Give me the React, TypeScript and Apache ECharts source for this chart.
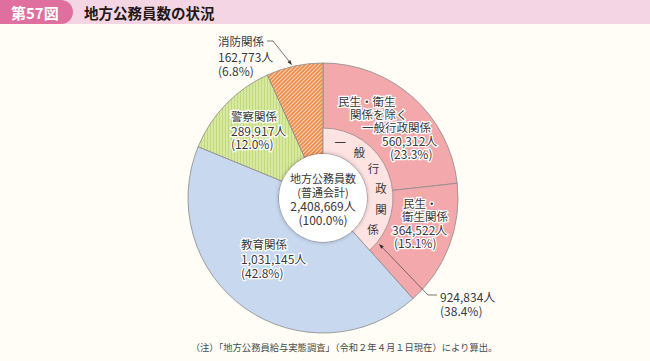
import React, { useEffect, useRef } from "react";
import * as echarts from "echarts";

const categories = ["民生・衛生関係を除く一般行政関係", "民生・衛生関係", "教育関係", "警察関係", "消防関係"];
const values = [560312, 364522, 1031145, 289917, 162773];
const percents = ["23.3", "15.1", "42.8", "12.0", "6.8"];
const generalAdminName = "一般行政関係";
const generalAdminValue = 924834;
const generalAdminPercent = "38.4";
const totalValue = 2408669;
const totalPercent = "100.0";
const titleTag = "第57図";
const titleText = "地方公務員数の状況";
const footnote = "（注）「地方公務員給与実態調査」（令和２年４月１日現在）により算出。";

const FONT = '"Noto Sans CJK JP", "Noto Sans", sans-serif';
const TEXT = "#3a3838";
const CX = 323;
const CY = 198;

function fmt(v: number) {
  return v.toLocaleString("en-US");
}

function makeCanvas(w: number, h: number, draw: (c: CanvasRenderingContext2D) => void) {
  const c = document.createElement("canvas");
  c.width = w;
  c.height = h;
  const ctx = c.getContext("2d")!;
  draw(ctx);
  return c;
}

function txt(text: string, x: number, y: number, size = 11.5, extra: any = {}) {
  return {
    type: "text",
    x,
    y,
    silent: true,
    z: 100,
    style: {
      text,
      fill: TEXT,
      font: `${extra.weight || "normal"} ${size}px ${FONT}`,
      fontSize: size,
      fontFamily: FONT,
      fontWeight: extra.weight || "normal",
      align: extra.align || "left",
      textAlign: extra.align || "left",
      verticalAlign: "middle",
      textVerticalAlign: "middle",
      stroke: extra.noHalo ? undefined : "#ffffff",
      lineWidth: extra.noHalo ? 0 : 2.5,
      ...(extra.style || {}),
    },
  };
}

function arrow(points: number[][]) {
  const n = points.length;
  const tip = points[n - 1];
  const prev = points[n - 2];
  const dx = tip[0] - prev[0];
  const dy = tip[1] - prev[1];
  const len = Math.sqrt(dx * dx + dy * dy);
  const ux = dx / len;
  const uy = dy / len;
  const bx = tip[0] - ux * 5;
  const by = tip[1] - uy * 5;
  return [
    {
      type: "polyline",
      silent: true,
      z: 90,
      shape: { points: points.map((p, i) => (i === n - 1 ? [bx + ux, by + uy] : p)) },
      style: { stroke: "#555", lineWidth: 0.8, fill: null },
    },
    {
      type: "polygon",
      silent: true,
      z: 91,
      shape: {
        points: [
          tip,
          [bx - uy * 1.8, by + ux * 1.8],
          [bx + uy * 1.8, by - ux * 1.8],
        ],
      },
      style: { fill: "#333" },
    },
  ];
}

export default function App() {
  const ref = useRef<HTMLDivElement>(null);

  useEffect(() => {
    if (!ref.current) return;
    const chart = echarts.init(ref.current, undefined, { renderer: "svg" });

    const orange = makeCanvas(4, 4, (c) => {
      c.fillStyle = "#f08b4c";
      c.fillRect(0, 0, 4, 4);
      c.strokeStyle = "#fbd3b3";
      c.lineWidth = 1.1;
      c.beginPath();
      c.moveTo(-1, 5);
      c.lineTo(5, -1);
      c.moveTo(-1, 1);
      c.lineTo(1, -1);
      c.moveTo(3, 5);
      c.lineTo(5, 3);
      c.stroke();
    });
    const green = makeCanvas(3, 2, (c) => {
      c.fillStyle = "#d7e89f";
      c.fillRect(0, 0, 3, 2);
      c.fillStyle = "#c3d97f";
      c.fillRect(0, 0, 1, 2);
    });

    const colors: any[] = [
      "#f3a8ac",
      "#f3a8ac",
      "#c7d8ef",
      { image: green, repeat: "repeat" },
      { image: orange, repeat: "repeat" },
    ];

    const ringChars = generalAdminName.split("");
    const ringGraphics = ringChars.map((ch, i) => {
      const ang = ((17 + i * 21) * Math.PI) / 180;
      const r = 59;
      return txt(ch, CX + r * Math.sin(ang), CY - r * Math.cos(ang), 11.5, { align: "center", noHalo: true });
    });

    const graphics: any[] = [
      {
        type: "rect",
        silent: true,
        shape: { x: 0, y: 0, width: 650, height: 24 },
        style: { fill: "#f3d5e4" },
        z: 1,
      },
      {
        type: "rect",
        silent: true,
        shape: { x: -20, y: 0, width: 93, height: 24, r: [0, 12, 12, 0] },
        style: { fill: "#df6f9e" },
        z: 2,
      },
      txt(titleTag, 11, 12, 15, { weight: "bold", noHalo: true, style: { fill: "#ffffff" } }),
      txt(titleText, 84, 12, 14.5, { weight: "bold", noHalo: true, style: { fill: "#231815" } }),

      // 消防
      txt(categories[4], 218, 41, 11.5),
      txt(`${fmt(values[4])}人`, 218, 56, 12),
      txt(`(${percents[4]}%)`, 218, 70, 12),
      ...arrow([
        [267, 41],
        [273, 41],
        [292, 65],
      ]),

      // 警察
      txt(categories[3], 231, 116, 11.5),
      txt(`${fmt(values[3])}人`, 231, 130, 12),
      txt(`(${percents[3]}%)`, 231, 143, 12),

      // 民生・衛生を除く一般行政
      txt("民生・衛生", 338, 101, 11.5),
      txt("関係を除く", 350, 114, 11.5),
      txt("一般行政関係", 362, 127, 11.5),
      txt(`${fmt(values[0])}人`, 382, 140, 12),
      txt(`(${percents[0]}%)`, 390, 153, 12),

      // 民生・衛生
      txt("民生・", 403, 203, 11.5),
      txt("衛生関係", 402, 216, 11.5),
      txt(`${fmt(values[1])}人`, 392, 229, 12),
      txt(`(${percents[1]}%)`, 394, 242, 12),

      // 教育
      txt(categories[2], 241, 244, 11.5),
      txt(`${fmt(values[2])}人`, 241, 258, 12),
      txt(`(${percents[2]}%)`, 241, 272, 12),

      // 一般行政 total
      ...arrow([
        [437, 295],
        [428, 295],
        [379, 244],
      ]),
      txt(`${fmt(generalAdminValue)}人`, 440, 296, 12),
      txt(`(${generalAdminPercent}%)`, 440, 310, 12),

      ...ringGraphics,

      // center
      txt("地方公務員数", CX, 178, 11, { align: "center", noHalo: true }),
      txt("(普通会計)", CX, 192, 11, { align: "center", noHalo: true }),
      txt(`${fmt(totalValue)}人`, CX, 205, 12, { align: "center", noHalo: true }),
      txt(`(${totalPercent}%)`, CX, 219, 12, { align: "center", noHalo: true }),

      txt(footnote, 344, 347, 9.3, { align: "center", noHalo: true, style: { fill: "#4a4a4a" } }),
    ];

    chart.setOption({
      animation: false,
      backgroundColor: "#fffdf5",
      series: [
        {
          type: "pie",
          center: [CX, CY],
          radius: [44, 135],
          startAngle: 90,
          clockwise: true,
          silent: true,
          label: { show: false },
          labelLine: { show: false },
          emphasis: { disabled: true },
          itemStyle: { borderColor: "#8a8a8a", borderWidth: 0.8 },
          data: categories.map((name, i) => ({
            name,
            value: values[i],
            itemStyle: { color: colors[i] },
          })),
          z: 2,
        },
        {
          type: "pie",
          center: [CX, CY],
          radius: [44, 70],
          startAngle: 90,
          clockwise: true,
          silent: true,
          label: { show: false },
          labelLine: { show: false },
          emphasis: { disabled: true },
          data: [
            {
              name: generalAdminName,
              value: generalAdminValue,
              itemStyle: { color: "#fde3e2", borderColor: "#9a8a8a", borderWidth: 0.8 },
            },
            {
              name: "その他",
              value: totalValue - generalAdminValue,
              itemStyle: { color: "rgba(0,0,0,0)", borderWidth: 0 },
            },
          ],
          z: 3,
        },
        {
          type: "pie",
          center: [CX, CY],
          radius: [0, 44],
          silent: true,
          label: { show: false },
          labelLine: { show: false },
          emphasis: { disabled: true },
          data: [
            {
              name: "center",
              value: totalValue,
              itemStyle: {
                color: "#ffffff",
                shadowBlur: 4,
                shadowColor: "rgba(0,0,0,0.35)",
              },
            },
          ],
          z: 4,
        },
      ],
      graphic: { elements: graphics },
    });

    return () => chart.dispose();
  }, []);

  return (
    <div
      ref={ref}
      style={{ position: "absolute", left: 0, top: 0, width: 650, height: 361 }}
    />
  );
}
